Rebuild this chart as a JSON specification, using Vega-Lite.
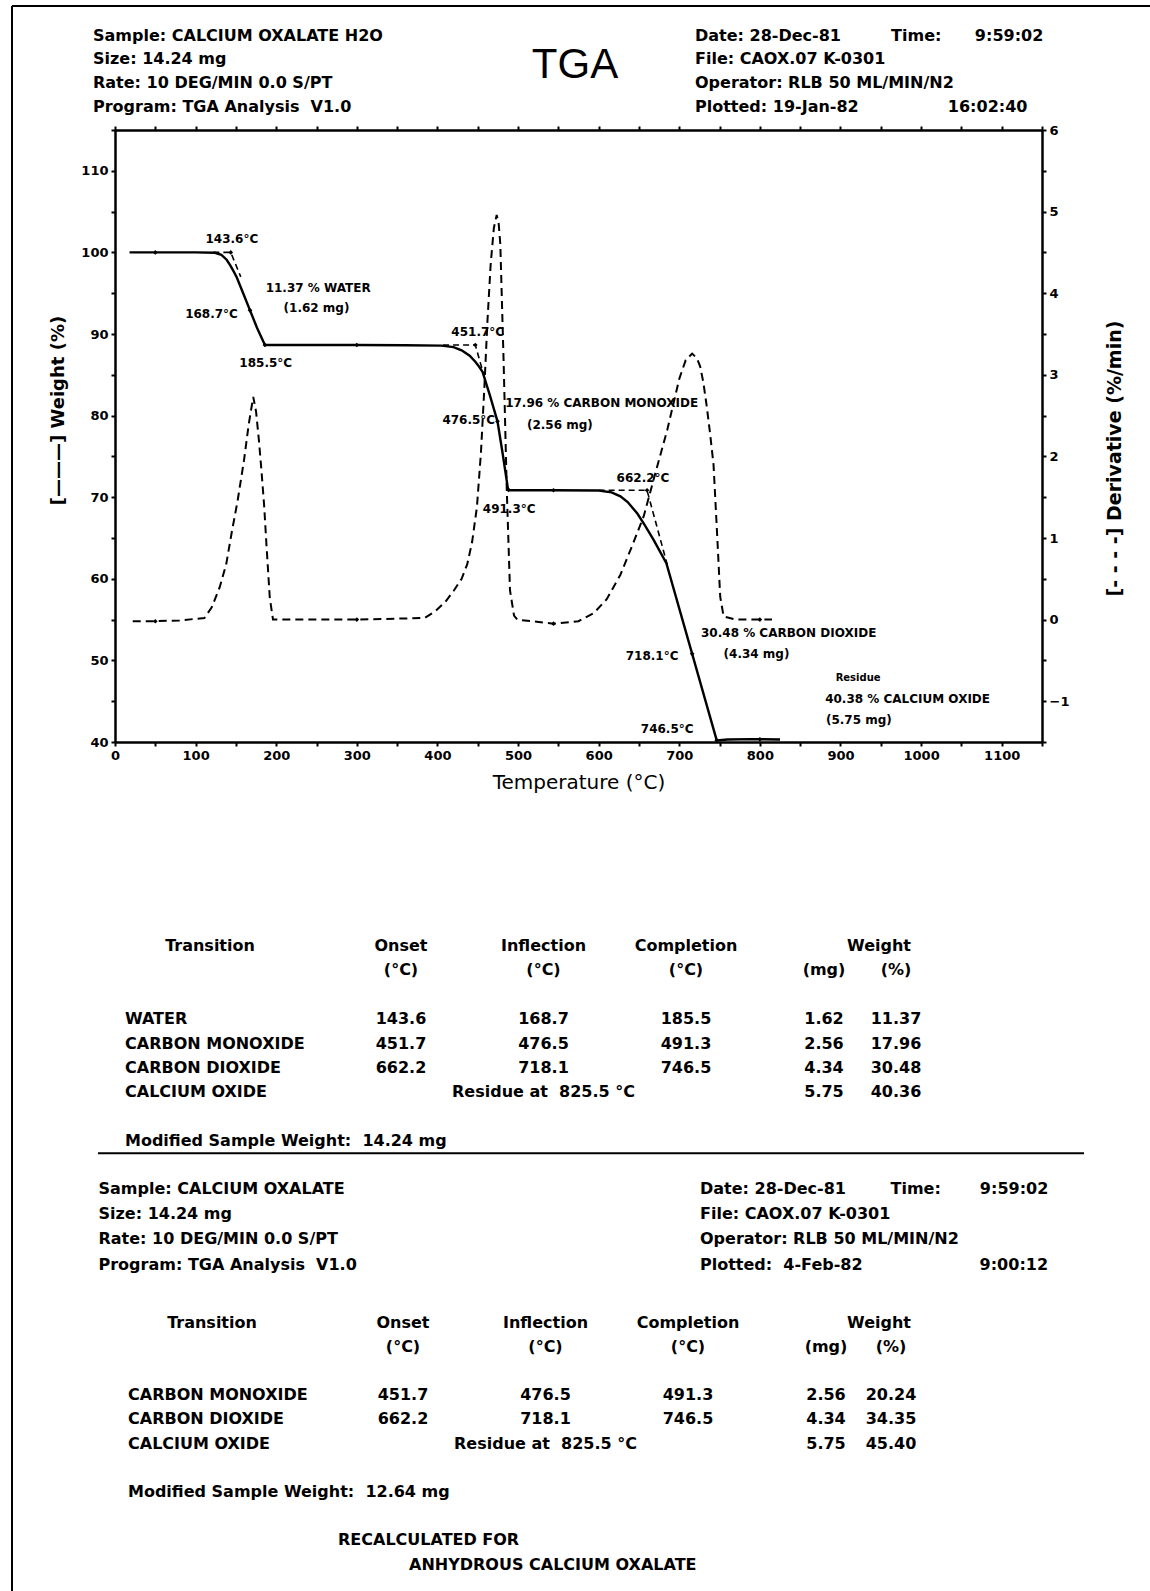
{
  "$schema": "https://vega.github.io/schema/vega-lite/v6.json",
  "background": "white",
  "padding": 0,
  "spacing": 0,
  "bounds": "flush",
  "config": {
    "view": {"stroke": null},
    "axis": {"domainColor": "black", "domainWidth": 2.5, "tickColor": "black", "tickWidth": 2, "tickSize": 4, "grid": false, "labelColor": "black", "titleColor": "black", "labelFont": "DejaVu Sans", "titleFont": "DejaVu Sans", "labelFontWeight": "bold", "labelFontSize": 13, "labelPadding": 3}
  },
  "datasets": {
    "headers": [
      {"page": "plot", "block": "left", "row": 1, "text": "Sample: CALCIUM OXALATE H2O"},
      {"page": "plot", "block": "left", "row": 2, "text": "Size: 14.24 mg"},
      {"page": "plot", "block": "left", "row": 3, "text": "Rate: 10 DEG/MIN 0.0 S/PT"},
      {"page": "plot", "block": "left", "row": 4, "text": "Program: TGA Analysis\u00a0\u00a0V1.0"},
      {"page": "plot", "block": "right", "row": 1, "text": "Date: 28-Dec-81\u00a0\u00a0\u00a0\u00a0\u00a0\u00a0\u00a0\u00a0\u00a0Time:\u00a0\u00a0\u00a0\u00a0\u00a0\u00a09:59:02"},
      {"page": "plot", "block": "right", "row": 2, "text": "File: CAOX.07 K-0301"},
      {"page": "plot", "block": "right", "row": 3, "text": "Operator: RLB 50 ML/MIN/N2"},
      {"page": "plot", "block": "right", "row": 4, "text": "Plotted: 19-Jan-82\u00a0\u00a0\u00a0\u00a0\u00a0\u00a0\u00a0\u00a0\u00a0\u00a0\u00a0\u00a0\u00a0\u00a0\u00a0\u00a016:02:40"},
      {"page": "recalc", "block": "left", "row": 1, "text": "Sample: CALCIUM OXALATE"},
      {"page": "recalc", "block": "left", "row": 2, "text": "Size: 14.24 mg"},
      {"page": "recalc", "block": "left", "row": 3, "text": "Rate: 10 DEG/MIN 0.0 S/PT"},
      {"page": "recalc", "block": "left", "row": 4, "text": "Program: TGA Analysis\u00a0\u00a0V1.0"},
      {"page": "recalc", "block": "right", "row": 1, "text": "Date: 28-Dec-81\u00a0\u00a0\u00a0\u00a0\u00a0\u00a0\u00a0\u00a0Time:\u00a0\u00a0\u00a0\u00a0\u00a0\u00a0\u00a09:59:02"},
      {"page": "recalc", "block": "right", "row": 2, "text": "File: CAOX.07 K-0301"},
      {"page": "recalc", "block": "right", "row": 3, "text": "Operator: RLB 50 ML/MIN/N2"},
      {"page": "recalc", "block": "right", "row": 4, "text": "Plotted:\u00a0\u00a04-Feb-82\u00a0\u00a0\u00a0\u00a0\u00a0\u00a0\u00a0\u00a0\u00a0\u00a0\u00a0\u00a0\u00a0\u00a0\u00a0\u00a0\u00a0\u00a0\u00a0\u00a0\u00a09:00:12"}
    ],
    "tables": [
      {"sec": "hydrated", "line": "head", "col": "transition", "text": "Transition"},
      {"sec": "hydrated", "line": "head", "col": "onset", "text": "Onset"},
      {"sec": "hydrated", "line": "head", "col": "inflection", "text": "Inflection"},
      {"sec": "hydrated", "line": "head", "col": "completion", "text": "Completion"},
      {"sec": "hydrated", "line": "head", "col": "weight", "text": "Weight"},
      {"sec": "hydrated", "line": "units", "col": "onset", "text": "(°C)"},
      {"sec": "hydrated", "line": "units", "col": "inflection", "text": "(°C)"},
      {"sec": "hydrated", "line": "units", "col": "completion", "text": "(°C)"},
      {"sec": "hydrated", "line": "units", "col": "mg", "text": "(mg)"},
      {"sec": "hydrated", "line": "units", "col": "pct", "text": "(%)"},
      {"sec": "hydrated", "line": "WATER", "col": "transition", "text": "WATER"},
      {"sec": "hydrated", "line": "WATER", "col": "onset", "text": "143.6"},
      {"sec": "hydrated", "line": "WATER", "col": "inflection", "text": "168.7"},
      {"sec": "hydrated", "line": "WATER", "col": "completion", "text": "185.5"},
      {"sec": "hydrated", "line": "WATER", "col": "mg", "text": "1.62"},
      {"sec": "hydrated", "line": "WATER", "col": "pct", "text": "11.37"},
      {"sec": "hydrated", "line": "CARBON MONOXIDE", "col": "transition", "text": "CARBON MONOXIDE"},
      {"sec": "hydrated", "line": "CARBON MONOXIDE", "col": "onset", "text": "451.7"},
      {"sec": "hydrated", "line": "CARBON MONOXIDE", "col": "inflection", "text": "476.5"},
      {"sec": "hydrated", "line": "CARBON MONOXIDE", "col": "completion", "text": "491.3"},
      {"sec": "hydrated", "line": "CARBON MONOXIDE", "col": "mg", "text": "2.56"},
      {"sec": "hydrated", "line": "CARBON MONOXIDE", "col": "pct", "text": "17.96"},
      {"sec": "hydrated", "line": "CARBON DIOXIDE", "col": "transition", "text": "CARBON DIOXIDE"},
      {"sec": "hydrated", "line": "CARBON DIOXIDE", "col": "onset", "text": "662.2"},
      {"sec": "hydrated", "line": "CARBON DIOXIDE", "col": "inflection", "text": "718.1"},
      {"sec": "hydrated", "line": "CARBON DIOXIDE", "col": "completion", "text": "746.5"},
      {"sec": "hydrated", "line": "CARBON DIOXIDE", "col": "mg", "text": "4.34"},
      {"sec": "hydrated", "line": "CARBON DIOXIDE", "col": "pct", "text": "30.48"},
      {"sec": "hydrated", "line": "CALCIUM OXIDE", "col": "transition", "text": "CALCIUM OXIDE"},
      {"sec": "hydrated", "line": "CALCIUM OXIDE", "col": "inflection", "text": "Residue at\u00a0\u00a0825.5 °C"},
      {"sec": "hydrated", "line": "CALCIUM OXIDE", "col": "mg", "text": "5.75"},
      {"sec": "hydrated", "line": "CALCIUM OXIDE", "col": "pct", "text": "40.36"},
      {"sec": "hydrated", "line": "modified", "col": "transition", "text": "Modified Sample Weight:\u00a0\u00a014.24 mg"},
      {"sec": "anhydrous", "line": "head", "col": "transition", "text": "Transition"},
      {"sec": "anhydrous", "line": "head", "col": "onset", "text": "Onset"},
      {"sec": "anhydrous", "line": "head", "col": "inflection", "text": "Inflection"},
      {"sec": "anhydrous", "line": "head", "col": "completion", "text": "Completion"},
      {"sec": "anhydrous", "line": "head", "col": "weight", "text": "Weight"},
      {"sec": "anhydrous", "line": "units", "col": "onset", "text": "(°C)"},
      {"sec": "anhydrous", "line": "units", "col": "inflection", "text": "(°C)"},
      {"sec": "anhydrous", "line": "units", "col": "completion", "text": "(°C)"},
      {"sec": "anhydrous", "line": "units", "col": "mg", "text": "(mg)"},
      {"sec": "anhydrous", "line": "units", "col": "pct", "text": "(%)"},
      {"sec": "anhydrous", "line": "CARBON MONOXIDE", "col": "transition", "text": "CARBON MONOXIDE"},
      {"sec": "anhydrous", "line": "CARBON MONOXIDE", "col": "onset", "text": "451.7"},
      {"sec": "anhydrous", "line": "CARBON MONOXIDE", "col": "inflection", "text": "476.5"},
      {"sec": "anhydrous", "line": "CARBON MONOXIDE", "col": "completion", "text": "491.3"},
      {"sec": "anhydrous", "line": "CARBON MONOXIDE", "col": "mg", "text": "2.56"},
      {"sec": "anhydrous", "line": "CARBON MONOXIDE", "col": "pct", "text": "20.24"},
      {"sec": "anhydrous", "line": "CARBON DIOXIDE", "col": "transition", "text": "CARBON DIOXIDE"},
      {"sec": "anhydrous", "line": "CARBON DIOXIDE", "col": "onset", "text": "662.2"},
      {"sec": "anhydrous", "line": "CARBON DIOXIDE", "col": "inflection", "text": "718.1"},
      {"sec": "anhydrous", "line": "CARBON DIOXIDE", "col": "completion", "text": "746.5"},
      {"sec": "anhydrous", "line": "CARBON DIOXIDE", "col": "mg", "text": "4.34"},
      {"sec": "anhydrous", "line": "CARBON DIOXIDE", "col": "pct", "text": "34.35"},
      {"sec": "anhydrous", "line": "CALCIUM OXIDE", "col": "transition", "text": "CALCIUM OXIDE"},
      {"sec": "anhydrous", "line": "CALCIUM OXIDE", "col": "inflection", "text": "Residue at\u00a0\u00a0825.5 °C"},
      {"sec": "anhydrous", "line": "CALCIUM OXIDE", "col": "mg", "text": "5.75"},
      {"sec": "anhydrous", "line": "CALCIUM OXIDE", "col": "pct", "text": "45.40"},
      {"sec": "anhydrous", "line": "modified", "col": "transition", "text": "Modified Sample Weight:\u00a0\u00a012.64 mg"},
      {"sec": "anhydrous", "line": "recalc1", "col": "note", "text": "RECALCULATED FOR"},
      {"sec": "anhydrous", "line": "recalc2", "col": "note", "text": "ANHYDROUS CALCIUM OXALATE"}
    ],
    "weight": [
      {"T": 18, "W": 100.0}, {"T": 50, "W": 100.0}, {"T": 100, "W": 100.0}, {"T": 124, "W": 99.95},
      {"T": 132, "W": 99.7}, {"T": 138.5, "W": 99.1}, {"T": 143, "W": 98.4}, {"T": 147, "W": 97.7},
      {"T": 151, "W": 96.95}, {"T": 159, "W": 95.0}, {"T": 167.5, "W": 92.9}, {"T": 176, "W": 90.8},
      {"T": 186, "W": 88.65}, {"T": 220, "W": 88.65}, {"T": 300, "W": 88.65}, {"T": 360, "W": 88.63},
      {"T": 405, "W": 88.58}, {"T": 420, "W": 88.4}, {"T": 430, "W": 88.0}, {"T": 440, "W": 87.35},
      {"T": 447, "W": 86.6}, {"T": 452, "W": 85.95}, {"T": 456, "W": 85.35}, {"T": 465, "W": 82.5},
      {"T": 474.5, "W": 79.3}, {"T": 481, "W": 75.3}, {"T": 487.5, "W": 71.0}, {"T": 490, "W": 70.85},
      {"T": 544, "W": 70.85}, {"T": 600, "W": 70.82}, {"T": 616, "W": 70.6}, {"T": 627, "W": 70.1},
      {"T": 636, "W": 69.4}, {"T": 648, "W": 68.0}, {"T": 657, "W": 66.6}, {"T": 668, "W": 64.8},
      {"T": 684, "W": 61.9}, {"T": 716, "W": 50.8}, {"T": 746.5, "W": 40.2}, {"T": 760, "W": 40.3},
      {"T": 790, "W": 40.35}, {"T": 825, "W": 40.3}
    ],
    "tangents": [
      {"seg": "water", "T": 122, "W": 100.0}, {"seg": "water", "T": 143.6, "W": 100.0}, {"seg": "water", "T": 156, "W": 97.0},
      {"seg": "co", "T": 407, "W": 88.65}, {"seg": "co", "T": 447, "W": 88.65}, {"seg": "co", "T": 458, "W": 84.8},
      {"seg": "co2", "T": 600, "W": 70.85}, {"seg": "co2", "T": 660, "W": 70.85}, {"seg": "co2", "T": 686, "W": 61.4}
    ],
    "weightMarks": [
      {"T": 50, "W": 100}, {"T": 143.6, "W": 100}, {"T": 167.5, "W": 92.9}, {"T": 186, "W": 88.65},
      {"T": 300, "W": 88.65}, {"T": 447, "W": 88.65}, {"T": 474.5, "W": 79.3}, {"T": 488, "W": 70.9},
      {"T": 544, "W": 70.85}, {"T": 660, "W": 70.85}, {"T": 716, "W": 50.8}, {"T": 746.5, "W": 40.2},
      {"T": 800, "W": 40.33}
    ],
    "derivative": [
      {"T": 22, "D": -0.02}, {"T": 50, "D": -0.02}, {"T": 80, "D": -0.01}, {"T": 111, "D": 0.02},
      {"T": 120, "D": 0.15}, {"T": 130, "D": 0.4}, {"T": 138, "D": 0.68}, {"T": 145, "D": 1.08},
      {"T": 152, "D": 1.45}, {"T": 160, "D": 1.95}, {"T": 166, "D": 2.4}, {"T": 171.5, "D": 2.73},
      {"T": 175, "D": 2.55}, {"T": 178.5, "D": 2.2}, {"T": 181.5, "D": 1.85}, {"T": 185, "D": 1.4},
      {"T": 188, "D": 0.9}, {"T": 192, "D": 0.27}, {"T": 196, "D": 0.0}, {"T": 220, "D": 0.0},
      {"T": 300, "D": 0.0}, {"T": 384, "D": 0.02}, {"T": 397, "D": 0.1}, {"T": 410, "D": 0.22},
      {"T": 420, "D": 0.35}, {"T": 430, "D": 0.5}, {"T": 437, "D": 0.68}, {"T": 443, "D": 0.95},
      {"T": 449, "D": 1.38}, {"T": 454, "D": 2.05}, {"T": 458, "D": 2.8}, {"T": 462, "D": 3.65},
      {"T": 466, "D": 4.35}, {"T": 470, "D": 4.8}, {"T": 473.5, "D": 4.96}, {"T": 476, "D": 4.85},
      {"T": 478, "D": 4.6}, {"T": 482, "D": 3.2}, {"T": 486, "D": 1.6}, {"T": 490, "D": 0.36},
      {"T": 495, "D": 0.05}, {"T": 499, "D": 0.0}, {"T": 544, "D": -0.05}, {"T": 575, "D": -0.02},
      {"T": 594, "D": 0.08}, {"T": 610, "D": 0.25}, {"T": 627, "D": 0.55}, {"T": 643, "D": 0.94},
      {"T": 656, "D": 1.27}, {"T": 668, "D": 1.71}, {"T": 685, "D": 2.32}, {"T": 700, "D": 2.95},
      {"T": 708, "D": 3.18}, {"T": 716, "D": 3.26}, {"T": 722, "D": 3.2}, {"T": 726, "D": 3.1},
      {"T": 730, "D": 2.9}, {"T": 734, "D": 2.62}, {"T": 738, "D": 2.3}, {"T": 742.5, "D": 1.9},
      {"T": 746.7, "D": 1.1}, {"T": 750.8, "D": 0.28}, {"T": 755, "D": 0.04}, {"T": 770, "D": 0.0},
      {"T": 800, "D": 0.0}, {"T": 815, "D": 0.0}
    ],
    "derivMarks": [
      {"T": 50, "D": -0.02}, {"T": 300, "D": 0.0}, {"T": 544, "D": -0.05}, {"T": 800, "D": 0.0}
    ]
  },
  "hconcat": [
    {
      "width": 115,
      "height": 1591,
      "layer": [
        {
          "data": {"values": [{"edge": "left page edge"}]},
          "mark": {"type": "rule", "color": "black", "strokeWidth": 2},
          "encoding": {
            "x": {"datum": 0, "type": "quantitative", "scale": {"domain": [0, 1], "range": [12, 1150]}, "axis": null},
            "y": {"datum": 0, "type": "quantitative", "scale": {"domain": [0, 1], "range": [6, 1591]}, "axis": null},
            "y2": {"datum": 1}
          }
        },
        {
          "data": {"values": [{"edge": "top page edge"}]},
          "mark": {"type": "rule", "color": "black", "strokeWidth": 2},
          "encoding": {
            "x": {"datum": 0, "type": "quantitative"},
            "x2": {"datum": 1},
            "y": {"datum": 0, "type": "quantitative"}
          }
        }
      ]
    },
    {
      "spacing": 0,
      "bounds": "flush",
      "vconcat": [
        {
          "width": 920,
          "height": 130,
          "layer": [
            {
              "data": {"name": "headers"},
              "transform": [{"filter": "datum.page === 'plot'"}],
              "mark": {"type": "text", "align": "left", "baseline": "middle", "fontSize": 16, "fontWeight": "bold", "font": "DejaVu Sans", "color": "black"},
              "encoding": {
                "x": {"field": "block", "type": "nominal", "scale": {"type": "point", "domain": ["left", "right"], "range": [-22, 580], "padding": 0}, "axis": null},
                "y": {"field": "row", "type": "nominal", "scale": {"type": "point", "domain": [1, 2, 3, 4], "range": [35.5, 106.6], "padding": 0}, "axis": null},
                "text": {"field": "text"}
              }
            },
            {
              "data": {"values": [{"title": "TGA"}]},
              "mark": {"type": "text", "align": "center", "baseline": "middle", "fontSize": 42, "font": "Liberation Sans", "fontWeight": "normal", "color": "black"},
              "encoding": {"text": {"field": "title"}}
            }
          ]
        },
        {
          "width": 927,
          "height": 612,
          "layer": [
            {
              "layer": [
                {
                  "data": {"name": "weight"},
                  "mark": {"type": "line", "color": "black", "strokeWidth": 2.4},
                  "encoding": {
                    "x": {"field": "T", "type": "quantitative", "scale": {"domain": [0, 1150], "nice": false},
                      "axis": {"orient": "bottom", "values": [0, 50, 100, 150, 200, 250, 300, 350, 400, 450, 500, 550, 600, 650, 700, 750, 800, 850, 900, 950, 1000, 1050, 1100, 1150], "labelExpr": "datum.value % 100 === 0 ? datum.label : ''", "format": "d", "labelFlush": false, "labelOverlap": false, "title": "Temperature (°C)", "titleFontSize": 20, "titleFontWeight": "normal", "titlePadding": 10}},
                    "y": {"field": "W", "type": "quantitative", "scale": {"domain": [40, 115], "nice": false, "zero": false},
                      "axis": {"orient": "left", "values": [40, 45, 50, 55, 60, 65, 70, 75, 80, 85, 90, 95, 100, 105, 110, 115], "labelExpr": "datum.value % 10 === 0 ? datum.label : ''", "format": "d", "labelOverlap": false, "title": "[———] Weight (%)", "titleFontSize": 18, "titleFontWeight": "bold", "titlePadding": 13, "titleY": 280}}
                  }
                },
                {
                  "data": {"name": "tangents"},
                  "mark": {"type": "line", "color": "black", "strokeWidth": 1.6, "strokeDash": [6, 4]},
                  "encoding": {
                    "x": {"field": "T", "type": "quantitative"},
                    "y": {"field": "W", "type": "quantitative"},
                    "detail": {"field": "seg"}
                  }
                },
                {
                  "data": {"name": "weightMarks"},
                  "mark": {"type": "point", "shape": "diamond", "filled": true, "color": "black", "size": 22, "opacity": 1},
                  "encoding": {
                    "x": {"field": "T", "type": "quantitative"},
                    "y": {"field": "W", "type": "quantitative"}
                  }
                },
                {
                  "data": {"values": [
                    {"label": "143.6°C", "T": 145, "W": 101.6},
                    {"label": "185.5°C", "T": 187, "W": 86.4},
                    {"label": "451.7°C", "T": 450, "W": 90.3},
                    {"label": "491.3°C", "T": 489, "W": 68.6},
                    {"label": "662.2°C", "T": 655, "W": 72.4},
                    {"label": "746.5°C", "T": 685, "W": 41.6},
                    {"label": "11.37 % WATER", "T": 252, "W": 95.6},
                    {"label": "(1.62 mg)", "T": 250, "W": 93.15}
                  ]},
                  "mark": {"type": "text", "align": "center", "baseline": "middle", "fontSize": 12, "fontWeight": "bold", "font": "DejaVu Sans", "color": "black"},
                  "encoding": {
                    "x": {"field": "T", "type": "quantitative"},
                    "y": {"field": "W", "type": "quantitative"},
                    "text": {"field": "label"}
                  }
                },
                {
                  "data": {"values": [
                    {"label": "168.7°C", "T": 152.5, "W": 92.5},
                    {"label": "476.5°C", "T": 471.6, "W": 79.5},
                    {"label": "718.1°C", "T": 699, "W": 50.6}
                  ]},
                  "mark": {"type": "text", "align": "right", "baseline": "middle", "fontSize": 12, "fontWeight": "bold", "font": "DejaVu Sans", "color": "black"},
                  "encoding": {
                    "x": {"field": "T", "type": "quantitative"},
                    "y": {"field": "W", "type": "quantitative"},
                    "text": {"field": "label"}
                  }
                },
                {
                  "data": {"values": [
                    {"label": "17.96 % CARBON MONOXIDE", "T": 484, "W": 81.5},
                    {"label": "(2.56 mg)", "T": 511, "W": 78.9},
                    {"label": "30.48 % CARBON DIOXIDE", "T": 727, "W": 53.4},
                    {"label": "(4.34 mg)", "T": 755, "W": 50.75},
                    {"label": "40.38 % CALCIUM OXIDE", "T": 881, "W": 45.3},
                    {"label": "(5.75 mg)", "T": 882, "W": 42.75}
                  ]},
                  "mark": {"type": "text", "align": "left", "baseline": "middle", "fontSize": 12, "fontWeight": "bold", "font": "DejaVu Sans", "color": "black"},
                  "encoding": {
                    "x": {"field": "T", "type": "quantitative"},
                    "y": {"field": "W", "type": "quantitative"},
                    "text": {"field": "label"}
                  }
                },
                {
                  "data": {"values": [{"label": "Residue", "T": 894, "W": 47.8}]},
                  "mark": {"type": "text", "align": "left", "baseline": "middle", "fontSize": 10, "fontWeight": "bold", "font": "DejaVu Sans", "color": "black"},
                  "encoding": {
                    "x": {"field": "T", "type": "quantitative"},
                    "y": {"field": "W", "type": "quantitative"},
                    "text": {"field": "label"}
                  }
                }
              ]
            },
            {
              "layer": [
                {
                  "data": {"name": "derivative"},
                  "mark": {"type": "line", "color": "black", "strokeWidth": 2, "strokeDash": [8, 5]},
                  "encoding": {
                    "x": {"field": "T", "type": "quantitative", "scale": {"domain": [0, 1150], "nice": false},
                      "axis": {"orient": "top", "values": [0, 50, 100, 150, 200, 250, 300, 350, 400, 450, 500, 550, 600, 650, 700, 750, 800, 850, 900, 950, 1000, 1050, 1100, 1150], "labels": false, "title": null}},
                    "y": {"field": "D", "type": "quantitative", "scale": {"domain": [-1.5, 6], "nice": false, "zero": false},
                      "axis": {"orient": "right", "values": [-1.5, -1, -0.5, 0, 0.5, 1, 1.5, 2, 2.5, 3, 3.5, 4, 4.5, 5, 5.5, 6], "labelExpr": "datum.value % 1 === 0 ? format(datum.value, 'd') : ''", "labelOverlap": false, "title": "[- - - -] Derivative (%/min)", "titleAngle": 270, "titleFontSize": 19, "titleFontWeight": "bold", "titlePadding": 56, "titleY": 328}}
                  }
                },
                {
                  "data": {"name": "derivMarks"},
                  "mark": {"type": "point", "shape": "diamond", "filled": true, "color": "black", "size": 22, "opacity": 1},
                  "encoding": {
                    "x": {"field": "T", "type": "quantitative"},
                    "y": {"field": "D", "type": "quantitative"}
                  }
                }
              ]
            }
          ],
          "resolve": {"scale": {"y": "independent"}, "axis": {"x": "independent"}}
        },
        {
          "width": 969,
          "height": 849,
          "layer": [
            {
              "data": {"name": "tables"},
              "transform": [{"filter": "datum.sec === 'hydrated' && indexof(['onset','inflection','completion'], datum.col) >= 0"}],
              "mark": {"type": "text", "align": "center", "baseline": "middle", "fontSize": 16, "fontWeight": "bold", "font": "DejaVu Sans", "color": "black"},
              "encoding": {
                "x": {"field": "col", "type": "nominal", "scale": {"type": "point", "domain": ["onset", "inflection", "completion"], "range": [286, 571], "padding": 0}, "axis": null},
                "y": {"field": "line", "type": "nominal", "scale": {"type": "band", "domain": ["head", "units", "gap1", "WATER", "CARBON MONOXIDE", "CARBON DIOXIDE", "CALCIUM OXIDE", "gap2", "modified"], "range": [191.8, 411.2], "paddingInner": 0, "paddingOuter": 0}, "axis": null},
                "text": {"field": "text"}
              }
            },
            {
              "data": {"name": "tables"},
              "transform": [{"filter": "datum.sec === 'hydrated' && indexof(['mg','pct'], datum.col) >= 0"}],
              "mark": {"type": "text", "align": "center", "baseline": "middle", "fontSize": 16, "fontWeight": "bold", "font": "DejaVu Sans", "color": "black"},
              "encoding": {
                "x": {"field": "col", "type": "nominal", "scale": {"type": "point", "domain": ["mg", "pct"], "range": [709, 781], "padding": 0}, "axis": null},
                "y": {"field": "line", "type": "nominal", "scale": {"type": "band", "domain": ["head", "units", "gap1", "WATER", "CARBON MONOXIDE", "CARBON DIOXIDE", "CALCIUM OXIDE", "gap2", "modified"], "range": [191.8, 411.2], "paddingInner": 0, "paddingOuter": 0}, "axis": null},
                "text": {"field": "text"}
              }
            },
            {
              "data": {"name": "tables"},
              "transform": [{"filter": "datum.sec === 'hydrated' && datum.col === 'weight'"}],
              "mark": {"type": "text", "align": "center", "baseline": "middle", "fontSize": 16, "fontWeight": "bold", "font": "DejaVu Sans", "color": "black"},
              "encoding": {
                "x": {"field": "col", "type": "nominal", "scale": {"type": "point", "domain": ["weight"], "range": [764, 764], "padding": 0}, "axis": null},
                "y": {"field": "line", "type": "nominal", "scale": {"type": "band", "domain": ["head", "units", "gap1", "WATER", "CARBON MONOXIDE", "CARBON DIOXIDE", "CALCIUM OXIDE", "gap2", "modified"], "range": [191.8, 411.2], "paddingInner": 0, "paddingOuter": 0}, "axis": null},
                "text": {"field": "text"}
              }
            },
            {
              "data": {"name": "tables"},
              "transform": [{"filter": "datum.sec === 'hydrated' && datum.col === 'transition' && datum.line !== 'head'"}],
              "mark": {"type": "text", "align": "left", "baseline": "middle", "fontSize": 16, "fontWeight": "bold", "font": "DejaVu Sans", "color": "black"},
              "encoding": {
                "x": {"field": "col", "type": "nominal", "scale": {"type": "point", "domain": ["transition"], "range": [10, 10], "padding": 0}, "axis": null},
                "y": {"field": "line", "type": "nominal", "scale": {"type": "band", "domain": ["head", "units", "gap1", "WATER", "CARBON MONOXIDE", "CARBON DIOXIDE", "CALCIUM OXIDE", "gap2", "modified"], "range": [191.8, 411.2], "paddingInner": 0, "paddingOuter": 0}, "axis": null},
                "text": {"field": "text"}
              }
            },
            {
              "data": {"name": "tables"},
              "transform": [{"filter": "datum.sec === 'hydrated' && datum.col === 'transition' && datum.line === 'head'"}],
              "mark": {"type": "text", "align": "center", "baseline": "middle", "fontSize": 16, "fontWeight": "bold", "font": "DejaVu Sans", "color": "black"},
              "encoding": {
                "x": {"field": "col", "type": "nominal", "scale": {"type": "point", "domain": ["transition"], "range": [95, 95], "padding": 0}, "axis": null},
                "y": {"field": "line", "type": "nominal", "scale": {"type": "band", "domain": ["head", "units", "gap1", "WATER", "CARBON MONOXIDE", "CARBON DIOXIDE", "CALCIUM OXIDE", "gap2", "modified"], "range": [191.8, 411.2], "paddingInner": 0, "paddingOuter": 0}, "axis": null},
                "text": {"field": "text"}
              }
            },
            {
              "data": {"values": [{"divider": "end of hydrated table"}]},
              "mark": {"type": "rule", "color": "black", "strokeWidth": 2},
              "encoding": {
                "x": {"datum": 0, "type": "quantitative", "scale": {"domain": [0, 1], "range": [-17, 969]}, "axis": null},
                "x2": {"datum": 1},
                "y": {"datum": "modified", "type": "nominal", "bandPosition": 1, "scale": {"type": "band", "domain": ["head", "units", "gap1", "WATER", "CARBON MONOXIDE", "CARBON DIOXIDE", "CALCIUM OXIDE", "gap2", "modified"], "range": [191.8, 411.2], "paddingInner": 0, "paddingOuter": 0}, "axis": null}
              }
            },
            {
              "data": {"name": "headers"},
              "transform": [{"filter": "datum.page === 'recalc'"}],
              "mark": {"type": "text", "align": "left", "baseline": "middle", "fontSize": 16, "fontWeight": "bold", "font": "DejaVu Sans", "color": "black"},
              "encoding": {
                "x": {"field": "block", "type": "nominal", "scale": {"type": "point", "domain": ["left", "right"], "range": [-16.5, 585], "padding": 0}, "axis": null},
                "y": {"field": "row", "type": "nominal", "scale": {"type": "point", "domain": [1, 2, 3, 4], "range": [446.6, 522.8], "padding": 0}, "axis": null},
                "text": {"field": "text"}
              }
            },
            {
              "data": {"name": "tables"},
              "transform": [{"filter": "datum.sec === 'anhydrous' && indexof(['onset','inflection','completion'], datum.col) >= 0"}],
              "mark": {"type": "text", "align": "center", "baseline": "middle", "fontSize": 16, "fontWeight": "bold", "font": "DejaVu Sans", "color": "black"},
              "encoding": {
                "x": {"field": "col", "type": "nominal", "scale": {"type": "point", "domain": ["onset", "inflection", "completion"], "range": [288, 573], "padding": 0}, "axis": null},
                "y": {"field": "line", "type": "nominal", "scale": {"type": "point", "domain": ["head", "units", "gap1", "CARBON MONOXIDE", "CARBON DIOXIDE", "CALCIUM OXIDE", "gap2", "modified", "gap3", "recalc1", "recalc2"], "range": [580.6, 822.6], "padding": 0}, "axis": null},
                "text": {"field": "text"}
              }
            },
            {
              "data": {"name": "tables"},
              "transform": [{"filter": "datum.sec === 'anhydrous' && indexof(['mg','pct'], datum.col) >= 0"}],
              "mark": {"type": "text", "align": "center", "baseline": "middle", "fontSize": 16, "fontWeight": "bold", "font": "DejaVu Sans", "color": "black"},
              "encoding": {
                "x": {"field": "col", "type": "nominal", "scale": {"type": "point", "domain": ["mg", "pct"], "range": [711, 776], "padding": 0}, "axis": null},
                "y": {"field": "line", "type": "nominal", "scale": {"type": "point", "domain": ["head", "units", "gap1", "CARBON MONOXIDE", "CARBON DIOXIDE", "CALCIUM OXIDE", "gap2", "modified", "gap3", "recalc1", "recalc2"], "range": [580.6, 822.6], "padding": 0}, "axis": null},
                "text": {"field": "text"}
              }
            },
            {
              "data": {"name": "tables"},
              "transform": [{"filter": "datum.sec === 'anhydrous' && datum.col === 'weight'"}],
              "mark": {"type": "text", "align": "center", "baseline": "middle", "fontSize": 16, "fontWeight": "bold", "font": "DejaVu Sans", "color": "black"},
              "encoding": {
                "x": {"field": "col", "type": "nominal", "scale": {"type": "point", "domain": ["weight"], "range": [764, 764], "padding": 0}, "axis": null},
                "y": {"field": "line", "type": "nominal", "scale": {"type": "point", "domain": ["head", "units", "gap1", "CARBON MONOXIDE", "CARBON DIOXIDE", "CALCIUM OXIDE", "gap2", "modified", "gap3", "recalc1", "recalc2"], "range": [580.6, 822.6], "padding": 0}, "axis": null},
                "text": {"field": "text"}
              }
            },
            {
              "data": {"name": "tables"},
              "transform": [{"filter": "datum.sec === 'anhydrous' && datum.col === 'transition' && datum.line !== 'head'"}],
              "mark": {"type": "text", "align": "left", "baseline": "middle", "fontSize": 16, "fontWeight": "bold", "font": "DejaVu Sans", "color": "black"},
              "encoding": {
                "x": {"field": "col", "type": "nominal", "scale": {"type": "point", "domain": ["transition"], "range": [13, 13], "padding": 0}, "axis": null},
                "y": {"field": "line", "type": "nominal", "scale": {"type": "point", "domain": ["head", "units", "gap1", "CARBON MONOXIDE", "CARBON DIOXIDE", "CALCIUM OXIDE", "gap2", "modified", "gap3", "recalc1", "recalc2"], "range": [580.6, 822.6], "padding": 0}, "axis": null},
                "text": {"field": "text"}
              }
            },
            {
              "data": {"name": "tables"},
              "transform": [{"filter": "datum.sec === 'anhydrous' && datum.col === 'transition' && datum.line === 'head'"}],
              "mark": {"type": "text", "align": "center", "baseline": "middle", "fontSize": 16, "fontWeight": "bold", "font": "DejaVu Sans", "color": "black"},
              "encoding": {
                "x": {"field": "col", "type": "nominal", "scale": {"type": "point", "domain": ["transition"], "range": [97, 97], "padding": 0}, "axis": null},
                "y": {"field": "line", "type": "nominal", "scale": {"type": "point", "domain": ["head", "units", "gap1", "CARBON MONOXIDE", "CARBON DIOXIDE", "CALCIUM OXIDE", "gap2", "modified", "gap3", "recalc1", "recalc2"], "range": [580.6, 822.6], "padding": 0}, "axis": null},
                "text": {"field": "text"}
              }
            },
            {
              "data": {"name": "tables"},
              "transform": [{"filter": "datum.col === 'note'"}],
              "mark": {"type": "text", "align": "left", "baseline": "middle", "fontSize": 16, "fontWeight": "bold", "font": "DejaVu Sans", "color": "black"},
              "encoding": {
                "x": {"field": "line", "type": "nominal", "scale": {"type": "point", "domain": ["recalc1", "recalc2"], "range": [223, 294], "padding": 0}, "axis": null},
                "y": {"field": "line", "type": "nominal", "scale": {"type": "point", "domain": ["head", "units", "gap1", "CARBON MONOXIDE", "CARBON DIOXIDE", "CALCIUM OXIDE", "gap2", "modified", "gap3", "recalc1", "recalc2"], "range": [580.6, 822.6], "padding": 0}, "axis": null},
                "text": {"field": "text"}
              }
            }
          ],
          "resolve": {"scale": {"x": "independent", "y": "independent"}}
        }
      ]
    }
  ]
}
